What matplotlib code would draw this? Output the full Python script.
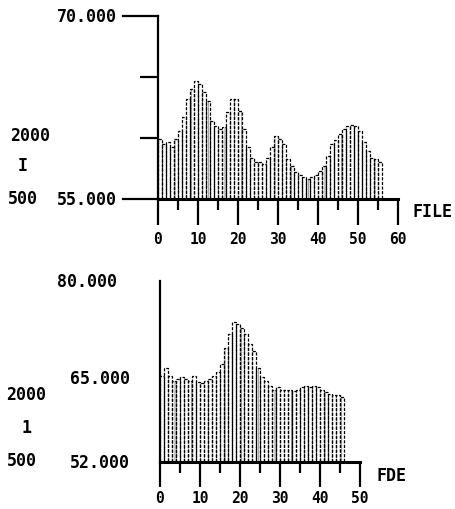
import matplotlib
matplotlib.use("Agg")
import matplotlib.pyplot as plt
import numpy as np

# ---- data ----
top_values = [59.9, 59.5, 59.7, 59.3, 59.9, 60.6, 61.7, 63.2, 64.0, 64.7,
              64.4, 63.8, 63.0, 61.4, 61.0, 60.7, 60.9, 62.1, 63.2, 63.2,
              62.2, 60.7, 59.3, 58.4, 58.0, 58.0, 57.9, 58.4, 59.3, 60.2,
              59.9, 59.5, 58.3, 57.7, 57.2, 57.0, 56.8, 56.6, 56.8, 57.0,
              57.3, 57.7, 58.5, 59.5, 59.8, 60.3, 60.7, 61.0, 61.1, 61.0,
              60.6, 59.7, 58.9, 58.4, 58.3, 58.0]
bottom_values = [65.3, 66.6, 65.3, 64.5, 64.8, 65.1, 64.8, 64.5, 65.3, 64.3,
                 64.2, 64.5, 64.8, 65.3, 65.9, 67.1, 69.7, 71.8, 73.6, 73.3,
                 72.8, 71.8, 70.2, 69.2, 66.6, 65.1, 64.5, 63.8, 63.2, 63.6,
                 63.2, 63.2, 63.2, 63.0, 63.2, 63.6, 63.7, 63.6, 63.7, 63.6,
                 63.2, 62.8, 62.5, 62.3, 62.3, 62.0]
top_xticks = [0, 10, 20, 30, 40, 50, 60]
bottom_xticks = [0, 10, 20, 30, 40, 50]
top_ylabels = ["70.000", "55.000"]
bottom_ylabels = ["80.000", "65.000", "52.000"]
side_labels = ["2000", "I", "500"]
xlabel_text = ["FILE", "FDE"]

plt.rcParams["hatch.linewidth"] = 0.6

W, H = 456, 510
FONT = dict(family="DejaVu Sans Mono", fontsize=12, fontweight="bold", color="black")
TICKFONT = dict(family="DejaVu Sans Mono", fontsize=10.5, fontweight="bold", color="black")

fig = plt.figure(figsize=(W / 100, H / 100), dpi=100)


def fx(px):
    return px / W


def fy(py):
    return 1 - py / H


def make_axes(left, right, top, bottom):
    return fig.add_axes([fx(left), fy(bottom), fx(right) - fx(left), fy(top) - fy(bottom)])


def style_axes(ax, xmax, ymin, ymax, xticks, major_len, pad):
    ax.set_xlim(0, xmax)
    ax.set_ylim(ymin, ymax)
    for s in ["top", "right"]:
        ax.spines[s].set_visible(False)
    ax.spines["bottom"].set_linewidth(2.2)
    ax.spines["left"].set_linewidth(1.6)
    ax.spines["left"].set_linestyle((0, (2, 1)))
    ax.set_xticks(xticks)
    ax.set_xticklabels([str(t) for t in xticks], **TICKFONT)
    ax.set_xticks([t + 5 for t in xticks[:-1]], minor=True)
    ax.tick_params(axis="x", which="major", length=major_len, width=1.6, pad=pad, direction="out")
    ax.tick_params(axis="x", which="minor", length=8, width=1.6, direction="out")
    ax.patch.set_alpha(0)


def draw_bars(ax, values, base):
    x = np.arange(len(values))
    h = np.array(values) - base
    ax.bar(x, h, bottom=base, width=1.0, align="edge",
           facecolor="white", edgecolor="#8a8a8a", linewidth=0, hatch="|")
    ax.bar(x, h, bottom=base, width=1.0, align="edge",
           facecolor="none", edgecolor="black", linewidth=0.9,
           linestyle=(0, (2.5, 1.2)))


# ---- top chart ----
ax1 = make_axes(158, 398, 17, 200)
style_axes(ax1, 60, 55, 70, top_xticks, 19, 4)
draw_bars(ax1, top_values, 55)
ax1.set_yticks([60, 65])
ax1.set_yticklabels([])
ax1.tick_params(axis="y", length=13, width=1.6, direction="out")
for yv in (70, 55):
    ax1.plot([-8.75, 0], [yv, yv], color="black", lw=1.6, clip_on=False)
ax1.text(-10.2, 70, top_ylabels[0], ha="right", va="center", **FONT)
ax1.text(-10.2, 55, top_ylabels[1], ha="right", va="center", **FONT)
fig.text(fx(413), fy(212), xlabel_text[0], ha="left", va="center", **FONT)
fig.text(fx(10), fy(136), side_labels[0], ha="left", va="center", **FONT)
fig.text(fx(23), fy(166), side_labels[1], ha="center", va="center", **FONT)
fig.text(fx(8), fy(199), side_labels[2], ha="left", va="center", **FONT)

# ---- bottom chart ----
ax2 = make_axes(160, 360, 282, 463)
style_axes(ax2, 50, 52, 80, bottom_xticks, 18, 2)
draw_bars(ax2, bottom_values, 52)
ax2.set_yticks([])
ax2.text(-10.75, 80, bottom_ylabels[0], ha="right", va="center", **FONT)
ax2.text(-7.5, 65, bottom_ylabels[1], ha="right", va="center", **FONT)
ax2.text(-7.5, 52, bottom_ylabels[2], ha="right", va="center", **FONT)
fig.text(fx(377), fy(476), xlabel_text[1], ha="left", va="center", **FONT)
fig.text(fx(6), fy(395), side_labels[0], ha="left", va="center", **FONT)
fig.text(fx(27), fy(428), "1", ha="center", va="center", **FONT)
fig.text(fx(7), fy(461), side_labels[2], ha="left", va="center", **FONT)

fig.savefig("out.png", dpi=100)
